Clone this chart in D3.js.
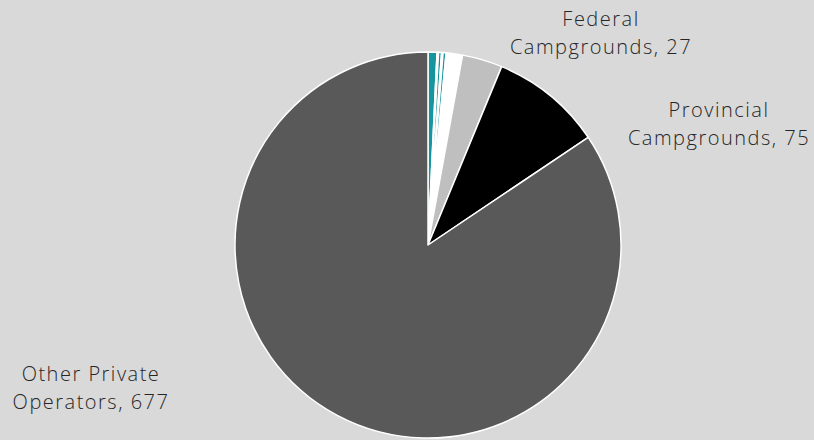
<!DOCTYPE html>
<html>
<head>
<meta charset="utf-8">
<script src="https://d3js.org/d3.v7.min.js"></script>
<style>
  body { margin: 0; background: #d9d9d9; }
  .label { font-family: "Open Sans", "DejaVu Sans", sans-serif; font-weight: 300; font-size: 20px; letter-spacing: 1.5px; fill: #262626; }
</style>
</head>
<body>
<div id="chart"></div>
<script>
// slice data, clockwise from 12 o'clock
var names  = ["Small A", "Small B", "Small C", "Small D", "Small E", "Small F",
              "Federal Campgrounds", "Provincial Campgrounds", "Other Private Operators"];
var values = [6, 1, 2, 1, 2, 11, 27, 75, 677];
var colors = ["#17959e", "#ffffff", "#17959e", "#ffffff", "#17959e", "#ffffff",
              "#bfbfbf", "#000000", "#595959"];
// which slices carry a label, and where (two lines each)
var labelled = [
  {i: 6, lines: ["Federal", "Campgrounds, 27"], x: 601, y: 19},
  {i: 7, lines: ["Provincial", "Campgrounds, 75"], x: 719, y: 110},
  {i: 8, lines: ["Other Private", "Operators, 677"], x: 91, y: 374}
];

var width = 814, height = 440;
var cx = 428, cy = 245, radius = 193;

var svg = d3.select("#chart").append("svg")
    .attr("width", width)
    .attr("height", height);

svg.append("rect")
    .attr("width", width)
    .attr("height", height)
    .style("fill", "#d9d9d9");

var pie = d3.pie().sort(null).value(function(d){ return d; });
var arc = d3.arc().innerRadius(0).outerRadius(radius);

var g = svg.append("g").attr("transform", "translate(" + cx + "," + cy + ")");

g.selectAll("path")
    .data(pie(values))
  .enter().append("path")
    .attr("d", arc)
    .style("fill", function(d, i){ return colors[i]; })
    .style("stroke", "#ffffff")
    .style("stroke-width", 1.5)
    .style("stroke-linejoin", "round");

// labels
labelled.forEach(function(l){
  var t = svg.append("text")
      .attr("class", "label")
      .attr("text-anchor", "middle");
  l.lines.forEach(function(s, k){
    t.append("tspan")
      .attr("x", l.x)
      .attr("y", l.y + k * 28)
      .attr("dy", "0.35em")
      .text(s);
  });
});
</script>
</body>
</html>
